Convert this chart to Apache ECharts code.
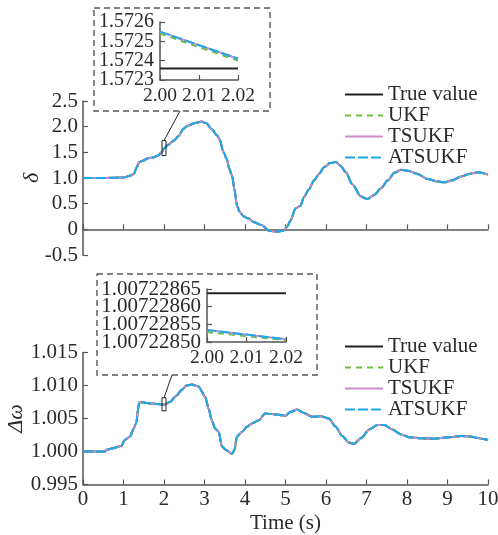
<!DOCTYPE html>
<html>
<head>
<meta charset="utf-8">
<script src="https://cdn.jsdelivr.net/npm/echarts@6/dist/echarts.min.js"></script>
<style>
  html, body { margin: 0; padding: 0; background: #fff; }
  #chart { width: 498px; height: 535px; }
</style>
</head>
<body>
<div id="chart"></div>
<script>
// Rotor angle δ trajectory (s, value)
const deltaTime = [0, 0.5, 1.0, 1.16, 1.26, 1.32, 1.39, 1.49, 1.61, 1.74, 1.86, 1.94, 2.0, 2.1, 2.23, 2.36, 2.48, 2.6, 2.77, 2.93, 3.04, 3.18, 3.31, 3.37, 3.47, 3.55, 3.61, 3.68, 3.74, 3.8, 3.87, 3.97, 4.09, 4.21, 4.42, 4.59, 4.79, 4.94, 5.04, 5.12, 5.25, 5.37, 5.45, 5.58, 5.70, 5.83, 5.95, 6.1, 6.24, 6.36, 6.49, 6.65, 6.86, 7.02, 7.19, 7.36, 7.52, 7.69, 7.85, 8.02, 8.26, 8.51, 8.76, 8.93, 9.09, 9.34, 9.59, 9.75, 10];
const deltaValue = [1.0, 1.0, 1.01, 1.045, 1.08, 1.2, 1.31, 1.34, 1.385, 1.40, 1.44, 1.50, 1.5725, 1.646, 1.72, 1.816, 1.96, 2.025, 2.07, 2.10, 2.07, 1.95, 1.83, 1.76, 1.50, 1.37, 1.18, 1.05, 0.78, 0.46, 0.34, 0.25, 0.21, 0.145, 0.08, -0.03, -0.045, -0.03, 0.05, 0.165, 0.41, 0.46, 0.62, 0.78, 0.95, 1.08, 1.21, 1.29, 1.31, 1.24, 1.11, 0.88, 0.64, 0.59, 0.67, 0.80, 0.95, 1.10, 1.16, 1.14, 1.08, 0.98, 0.93, 0.915, 0.95, 1.03, 1.09, 1.11, 1.065];

// Speed deviation Δω trajectory (s, value)
const omegaTime = [0, 0.54, 0.58, 0.74, 0.95, 1.03, 1.16, 1.24, 1.31, 1.39, 1.57, 1.82, 2.0, 2.15, 2.31, 2.44, 2.56, 2.69, 2.85, 3.02, 3.1, 3.18, 3.26, 3.35, 3.43, 3.55, 3.68, 3.74, 3.8, 3.93, 4.05, 4.17, 4.34, 4.50, 4.71, 4.92, 5.0, 5.12, 5.29, 5.45, 5.66, 5.87, 6.07, 6.24, 6.4, 6.57, 6.69, 6.86, 7.07, 7.27, 7.44, 7.64, 7.85, 8.06, 8.35, 8.68, 9.01, 9.34, 9.59, 9.83, 10];
const omegaValue = [1.0, 1.0, 1.00025, 1.0005, 1.00085, 1.00175, 1.00225, 1.00335, 1.00425, 1.0075, 1.00735, 1.0072, 1.0071, 1.0075, 1.0085, 1.00935, 1.0100, 1.01015, 1.00985, 1.00825, 1.0065, 1.00475, 1.0035, 1.003, 1.00075, 1.00015, 0.99965, 1.00025, 1.00225, 1.003, 1.00375, 1.00425, 1.00475, 1.00575, 1.00565, 1.0055, 1.0054, 1.006, 1.00635, 1.00585, 1.00525, 1.00535, 1.005, 1.00375, 1.00235, 1.00135, 1.00115, 1.002, 1.00335, 1.004, 1.004, 1.00335, 1.0026, 1.00215, 1.002, 1.00195, 1.00215, 1.00235, 1.00225, 1.00195, 1.00175];

// Zoomed window around t = 2.00 s
const zoomTime = [2.00, 2.02];
const deltaZoomTrue = [1.57236, 1.57236];
const deltaZoomUKF = [1.57254, 1.57240];
const deltaZoomTSUKF = [1.57255, 1.57241];
const deltaZoomATSUKF = [1.57255, 1.57241];
const omegaZoomTrue = [1.007228638, 1.007228638];
const omegaZoomUKF = [1.007228528, 1.007228505];
const omegaZoomTSUKF = [1.007228534, 1.007228508];
const omegaZoomATSUKF = [1.007228534, 1.007228508];

const deltaTicks = [-0.5, 0, 0.5, 1.0, 1.5, 2.0, 2.5];
const omegaTicks = [0.995, 1.000, 1.005, 1.010, 1.015];
const timeTicks = [0, 1, 2, 3, 4, 5, 6, 7, 8, 9, 10];
const deltaZoomTicks = [1.5723, 1.5724, 1.5725, 1.5726];
const omegaZoomTicks = [1.0072285, 1.00722855, 1.0072286, 1.00722865];

const seriesNames = ['True value', 'UKF', 'TSUKF', 'ATSUKF'];
const colors = { 'True value': '#222222', 'UKF': '#6cbf3c', 'TSUKF': '#c98ec9', 'ATSUKF': '#1ea8e8' };
const dashes = { 'True value': 'solid', 'UKF': [6, 5], 'TSUKF': 'solid', 'ATSUKF': [10, 3] };

const FONT = 'Liberation Serif';
const FS = 21;
const TXT = '#2a2a2a';
const AXIS = '#555555';

function pairs(xs, ys) { return xs.map((x, i) => [x, ys[i]]); }

function labelStyle(extra) {
  return Object.assign({
    color: TXT, fontFamily: FONT, fontSize: FS,
    showMinLabel: true, showMaxLabel: true, hideOverlap: false
  }, extra);
}

function axisCommon(extra) {
  return Object.assign({
    axisLine: { show: true, lineStyle: { color: AXIS, width: 1.5 } },
    axisTick: { show: true, inside: true, length: 5, lineStyle: { color: AXIS, width: 1.2 } },
    splitLine: { show: false },
    nameMoveOverlap: false,
    axisLabel: labelStyle({})
  }, extra);
}

const chart = echarts.init(document.getElementById('chart'), null, { renderer: 'canvas' });

const gridBase = { outerBoundsMode: 'none', containLabel: false };
const grids = [
  Object.assign({ left: 83, top: 101, width: 405, height: 154 }, gridBase),   // δ main
  Object.assign({ left: 83, top: 352.5, width: 405, height: 132 }, gridBase), // Δω main
  Object.assign({ left: 160, top: 22, width: 78, height: 58 }, gridBase),     // δ zoom
  Object.assign({ left: 207, top: 289, width: 79, height: 53 }, gridBase)     // Δω zoom
];

const xAxes = [
  axisCommon({ gridIndex: 0, type: 'value', min: 0, max: 10, interval: 1, axisLabel: { show: false } }),
  axisCommon({ gridIndex: 1, type: 'value', min: 0, max: 10, interval: 1,
    axisLabel: labelStyle({ margin: 4 }),
    name: 'Time (s)', nameLocation: 'middle', nameGap: 28,
    nameTextStyle: { color: TXT, fontFamily: FONT, fontSize: FS } }),
  axisCommon({ gridIndex: 2, type: 'value', min: 2.00, max: 2.02, interval: 0.01,
    axisLabel: labelStyle({ margin: 6, fontSize: 19.5, formatter: v => v.toFixed(2) }) }),
  axisCommon({ gridIndex: 3, type: 'value', min: 2.00, max: 2.02, interval: 0.01,
    axisLabel: labelStyle({ margin: 6, fontSize: 19.5, formatter: v => v.toFixed(2) }) })
];

// Zoom-window y labels are set as text next to their ticks (they sit tightly stacked)
const yAxes = [
  axisCommon({ gridIndex: 0, type: 'value', min: deltaTicks[0], max: deltaTicks[deltaTicks.length - 1], interval: 0.5,
    axisLabel: labelStyle({ margin: 5, formatter: v => (v === 0 ? '0' : v.toFixed(1)) }),
    name: 'δ', nameLocation: 'middle', nameGap: 40, nameRotate: 90,
    nameTextStyle: { color: TXT, fontFamily: FONT, fontSize: 22, fontStyle: 'italic' } }),
  axisCommon({ gridIndex: 1, type: 'value', min: omegaTicks[0], max: omegaTicks[omegaTicks.length - 1], interval: 0.005,
    axisLabel: labelStyle({ margin: 5, formatter: v => v.toFixed(3) }),
    name: 'Δω', nameLocation: 'middle', nameGap: 56, nameRotate: 90,
    nameTextStyle: { color: TXT, fontFamily: FONT, fontSize: 22, fontStyle: 'italic' } }),
  axisCommon({ gridIndex: 2, type: 'value', min: deltaZoomTicks[0], max: deltaZoomTicks[3], interval: 0.0001,
    axisLabel: { show: false } }),
  axisCommon({ gridIndex: 3, type: 'value', min: omegaZoomTicks[0], max: omegaZoomTicks[3], interval: 0.00000005,
    axisLabel: { show: false } })
];

function lineSeries(name, idx, data, width) {
  return {
    name: name, type: 'line', xAxisIndex: idx, yAxisIndex: idx, data: data,
    symbol: 'none', smooth: 0.25, smoothMonotone: 'x', animation: false,
    lineStyle: { color: colors[name], width: width, type: dashes[name] },
    itemStyle: { color: colors[name] }
  };
}

const deltaMain = pairs(deltaTime, deltaValue);
const omegaMain = pairs(omegaTime, omegaValue);
const deltaZoom = {
  'True value': pairs(zoomTime, deltaZoomTrue), 'UKF': pairs(zoomTime, deltaZoomUKF),
  'TSUKF': pairs(zoomTime, deltaZoomTSUKF), 'ATSUKF': pairs(zoomTime, deltaZoomATSUKF)
};
const omegaZoom = {
  'True value': pairs(zoomTime, omegaZoomTrue), 'UKF': pairs(zoomTime, omegaZoomUKF),
  'TSUKF': pairs(zoomTime, omegaZoomTSUKF), 'ATSUKF': pairs(zoomTime, omegaZoomATSUKF)
};

const series = [];
seriesNames.forEach(n => series.push(lineSeries(n, 0, deltaMain, 2)));
seriesNames.forEach(n => series.push(lineSeries(n, 1, omegaMain, 2)));
seriesNames.forEach(n => series.push(lineSeries(n, 2, deltaZoom[n], 2)));
seriesNames.forEach(n => series.push(lineSeries(n, 3, omegaZoom[n], 2)));

function legendAt(top) {
  return {
    orient: 'vertical', left: 344, top: top, padding: 0, itemWidth: 38, itemHeight: 14, itemGap: 0,
    selectedMode: false, data: seriesNames,
    itemStyle: { opacity: 0 },
    textStyle: { color: TXT, fontFamily: FONT, fontSize: FS, lineHeight: 20 }
  };
}

chart.setOption({
  animation: false,
  grid: grids,
  xAxis: xAxes,
  yAxis: yAxes,
  legend: [legendAt(84), legendAt(336)],
  series: series
});

// Dashed frames for the zoom windows and markers at t = 2.00 s on the main traces
const dashStyle = { fill: 'none', stroke: '#555', lineWidth: 1.4, lineDash: [6, 4] };
const mk1 = chart.convertToPixel({ xAxisIndex: 0, yAxisIndex: 0 }, [2.0, deltaZoomTSUKF[0]]);
const mk2 = chart.convertToPixel({ xAxisIndex: 1, yAxisIndex: 1 }, [2.0, omegaZoomTSUKF[0]]);
const box1 = { x: 94, y: 8, w: 176, h: 103 };
const box2 = { x: 97, y: 274, w: 220, h: 101 };

function zoomLabels(axisIndex, ticks, digits, fontSize) {
  const left = grids[axisIndex].left;
  return ticks.map(v => ({
    type: 'text', z: 10,
    x: left - 6,
    y: chart.convertToPixel({ yAxisIndex: axisIndex }, v),
    style: { text: v.toFixed(digits), fill: TXT, font: fontSize + 'px "' + FONT + '"', align: 'right', verticalAlign: 'middle' }
  }));
}

chart.setOption({
  graphic: [
    { type: 'rect', shape: { x: box1.x, y: box1.y, width: box1.w, height: box1.h }, style: dashStyle, z: 10 },
    { type: 'rect', shape: { x: box2.x, y: box2.y, width: box2.w, height: box2.h }, style: dashStyle, z: 10 },
    { type: 'rect', shape: { x: mk1[0] - 2, y: mk1[1] - 8, width: 4, height: 15 }, style: { fill: 'none', stroke: '#222', lineWidth: 1 }, z: 10 },
    { type: 'rect', shape: { x: mk2[0] - 2, y: mk2[1] - 6, width: 4, height: 13 }, style: { fill: 'none', stroke: '#222', lineWidth: 1 }, z: 10 },
    { type: 'line', shape: { x1: mk1[0], y1: mk1[1] - 8, x2: 180, y2: box1.y + box1.h }, style: { stroke: '#222', lineWidth: 1 }, z: 10 },
    { type: 'line', shape: { x1: mk2[0], y1: mk2[1] - 6, x2: 172, y2: box2.y + box2.h }, style: { stroke: '#222', lineWidth: 1 }, z: 10 }
  ].concat(zoomLabels(2, deltaZoomTicks, 4, 20), zoomLabels(3, omegaZoomTicks, 8, 21))
});
</script>
</body>
</html>
